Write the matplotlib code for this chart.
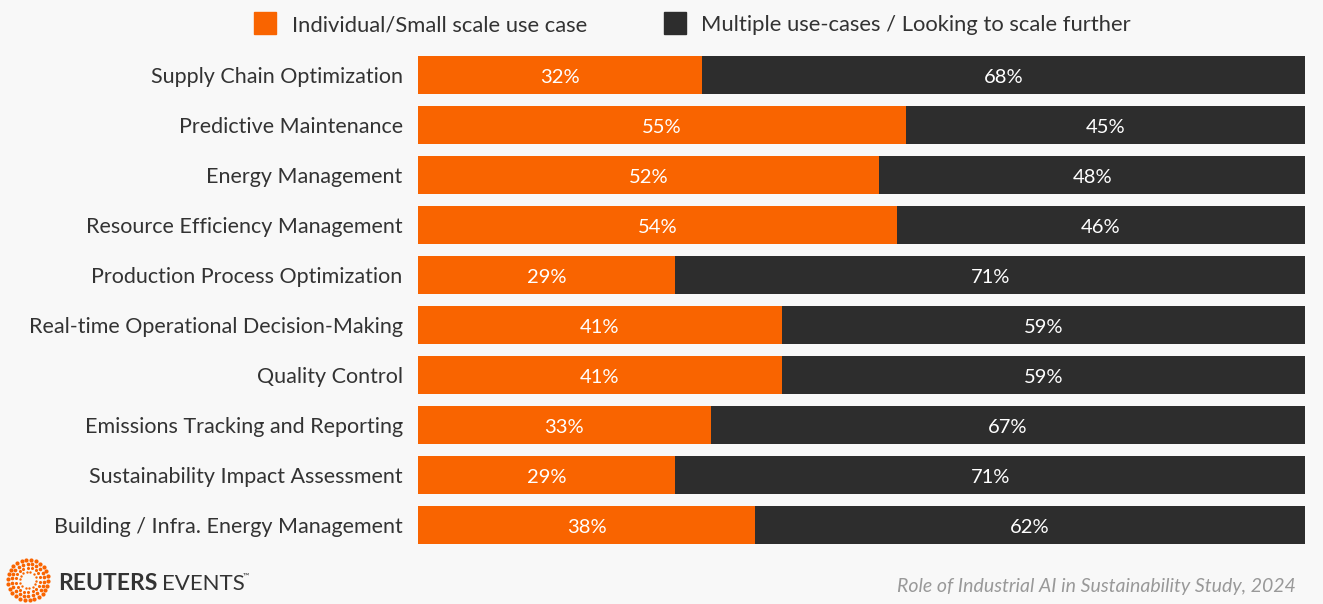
import numpy as np
import matplotlib
matplotlib.use('Agg')
import matplotlib.pyplot as plt
from matplotlib.patches import Rectangle

categories = ['Supply Chain Optimization', 'Predictive Maintenance', 'Energy Management',
              'Resource Efficiency Management', 'Production Process Optimization',
              'Real-time Operational Decision-Making', 'Quality Control',
              'Emissions Tracking and Reporting', 'Sustainability Impact Assessment',
              'Building / Infra. Energy Management']
small_scale = [32, 55, 52, 54, 29, 41, 41, 33, 29, 38]
multiple = [68, 45, 48, 46, 71, 59, 59, 67, 71, 62]
series_names = ['Individual/Small scale use case', 'Multiple use-cases / Looking to scale further']

ORANGE = '#f96400'
DARK = '#2d2d2d'
BG = '#f8f8f8'
TEXT = '#333333'

plt.rcParams['font.family'] = ['Lato', 'DejaVu Sans']

fig = plt.figure(figsize=(13.23, 6.04), dpi=100, facecolor=BG)
ax = fig.add_axes([418 / 1323, 1 - 550 / 604, (1305 - 418) / 1323, 500 / 604])
ax.set_facecolor(BG)

y = np.arange(len(categories))
ax.barh(y, small_scale, height=0.76, color=ORANGE)
ax.barh(y, multiple, left=small_scale, height=0.76, color=DARK)
for i in range(len(categories)):
    ax.text(small_scale[i] / 2, i + 0.02, f'{small_scale[i]}%', ha='center', va='center_baseline',
            color='white', fontsize=14.5)
    ax.text(small_scale[i] + multiple[i] / 2, i + 0.02, f'{multiple[i]}%', ha='center',
            va='center_baseline', color='white', fontsize=14.5)

ax.set_xlim(0, 100)
ax.set_ylim(len(categories) - 0.5, -0.5)
ax.set_yticks(y)
ax.set_yticklabels(categories, fontsize=15.5, color=TEXT, va='center_baseline')
ax.tick_params(axis='y', length=0, pad=11)
ax.set_xticks([])
for s in ax.spines.values():
    s.set_visible(False)

# legend
fig.patches.append(Rectangle((254 / 1323, 1 - 34 / 604), 22 / 1323, 22 / 604,
                             transform=fig.transFigure, color=ORANGE))
fig.text(292 / 1323, 1 - 23 / 604, series_names[0], fontsize=15.8, color=TEXT, va='center_baseline')
fig.patches.append(Rectangle((664 / 1323, 1 - 34 / 604), 22 / 1323, 22 / 604,
                             transform=fig.transFigure, color=DARK))
fig.text(701 / 1323, 1 - 23 / 604, series_names[1], fontsize=15.8, color=TEXT, va='center_baseline')

# footer
fig.text(1296 / 1323, 1 - 585 / 604, 'Role of Industrial AI in Sustainability Study, 2024',
         fontsize=14, style='italic', color='#999999', ha='right', va='center_baseline')

# logo dots
lax = fig.add_axes([6 / 1323, 1 - 602 / 604, 44 / 1323, 44 / 604])
lax.set_xlim(-1, 1)
lax.set_ylim(-1, 1)
lax.axis('off')
for r, n, s in [(0.92, 26, 9), (0.74, 22, 7), (0.56, 18, 5), (0.38, 14, 3)]:
    a = np.linspace(0, 2 * np.pi, n, endpoint=False) + r
    lax.scatter(r * np.cos(a), r * np.sin(a), s=s, color=ORANGE, linewidths=0)
fig.text(58 / 1323, 1 - 582 / 604, 'REUTERS', fontsize=16.5, fontweight='bold', color=TEXT,
         va='center_baseline')
fig.text(162 / 1323, 1 - 582 / 604, 'EVENTS', fontsize=16, color=TEXT, va='center_baseline')
fig.text(243 / 1323, 1 - 576 / 604, '™', fontsize=6, color=TEXT, va='center')

fig.savefig('out.png', dpi=100, facecolor=BG)
